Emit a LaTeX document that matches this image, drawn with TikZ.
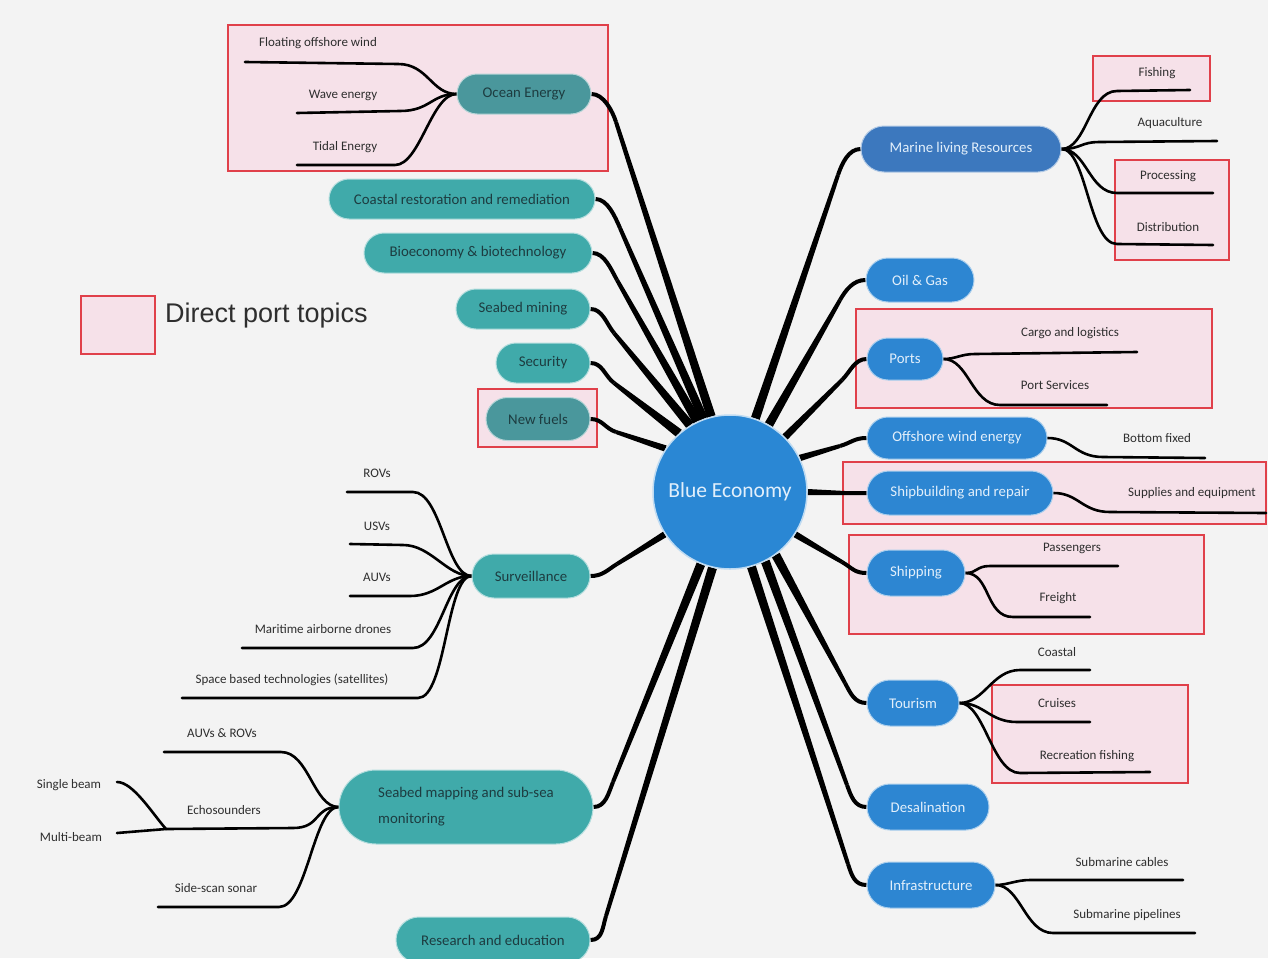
\documentclass[tikz,border=0pt]{standalone}
\usepackage{fontspec}
\setmainfont{Carlito}
\newfontfamily\legendfont{Liberation Sans}
\usetikzlibrary{shapes.misc,calc}
\definecolor{bgc}{HTML}{F3F3F3}
\definecolor{pinkfill}{HTML}{F6E1E9}
\definecolor{pinkedge}{HTML}{E0404A}
\definecolor{tealc}{HTML}{40AAAA}
\definecolor{tealdark}{HTML}{4A979C}
\definecolor{tealtext}{HTML}{1D3C40}
\definecolor{bluec}{HTML}{2D86D2}
\definecolor{bluedark}{HTML}{3C78BE}
\definecolor{bluetext}{HTML}{E2EFFB}
\definecolor{corec}{HTML}{2A87D4}
\definecolor{leaftext}{HTML}{2E2E2E}
\newcommand\fntTopic{\fontsize{14.8}{17}\selectfont}
\newcommand\fntTopicTwo{\fontsize{14.8}{26}\selectfont}
\newcommand\fntLeaf{\fontsize{13}{15}\selectfont}
\newcommand\fntCore{\fontsize{21.5}{24}\selectfont}
\pgfdeclarelayer{bg}
\pgfdeclarelayer{lines}
\pgfsetlayers{bg,lines,main}
% trunk: [#1 half width at core] #2 start anchor, #3 start control offset, #4 knee, #5 end anchor on core
\newcommand\trunkline[5][4.5]{%
  \draw[line width=4pt] (#2) .. controls +(#3) and ($(#4)!-12pt!(#5)$) .. (#4);
  \fill ($(#4)!2pt!90:(#5)$) -- ($(#5)!#1pt!-90:(#4)$) -- ($(#5)!#1pt!90:(#4)$) -- ($(#4)!2pt!-90:(#5)$) -- cycle;
}
\begin{document}
\begin{tikzpicture}[x=1pt,y=-1pt,
  topicL/.style={rounded rectangle, fill=tealc, text=tealtext, font=\fntTopic, minimum height=40pt, inner sep=0pt, draw=tealc!40!white, line width=1pt},
  topicLd/.style={topicL, fill=tealdark, draw=tealdark!40!white},
  topicR/.style={rounded rectangle, fill=bluec, text=bluetext, font=\fntTopic, minimum height=44pt, inner sep=0pt, draw=bluec!40!white, line width=1pt},
  topicRd/.style={topicR, fill=bluedark, draw=bluedark!40!white},
  leaf/.style={text=leaftext, font=\fntLeaf, inner sep=0pt},
  leafline/.style={line width=2.6pt, line cap=round},
  portbox/.style={fill=pinkfill, draw=pinkedge, line width=1.6pt},
]
\useasboundingbox (0,0) rectangle (1268,958);
\begin{pgfonlayer}{bg}
  \fill[bgc] (0,0) rectangle (1268,958);
  \draw[portbox] (228,25) rectangle (608,171);
  \draw[portbox] (478,389) rectangle (597,447);
  \draw[portbox] (1093,56) rectangle (1210,101);
  \draw[portbox] (1115,160) rectangle (1229,260);
  \draw[portbox] (856,309) rectangle (1212,408);
  \draw[portbox] (843,462) rectangle (1266,524);
  \draw[portbox] (849,535) rectangle (1204,634);
  \draw[portbox] (992,685) rectangle (1188,783);
\end{pgfonlayer}

% legend
\node[portbox, minimum width=74pt, minimum height=58pt, inner sep=0pt] (legbox) at (118,325) {};
\node[anchor=west, font=\legendfont\fontsize{27}{30}\selectfont, text=leaftext, inner sep=0pt] (legtext) at (165,316) {Direct port topics};

% core
\node[circle, fill=corec, draw=corec!30!white, line width=1.5pt, minimum size=154pt, text=bluetext, font=\fntCore, inner sep=0pt] (be) at (730,492) {Blue Economy};

% left topics
\node[topicLd, minimum width=134pt] (oe) at (524,94) {Ocean Energy};
\node[topicL, minimum width=266pt] (cr) at (462,199) {Coastal restoration and remediation};
\node[topicL, minimum width=228pt] (bio) at (478,253) {Bioeconomy \& biotechnology};
\node[topicL, minimum width=134pt] (sm) at (523,309) {Seabed mining};
\node[topicL, minimum width=94pt] (sec) at (543,363) {Security};
\node[topicLd, minimum width=104pt, minimum height=43pt] (nf) at (538,419) {New fuels};
\node[topicL, minimum width=118pt, minimum height=44pt] (sv) at (531,576) {Surveillance};
\node[topicL, font=\fntTopicTwo, minimum width=254pt, minimum height=74pt, align=left] (smp) at (466,807) {Seabed mapping and sub-sea\\monitoring};
\node[topicL, minimum width=194pt, minimum height=46pt] (re) at (493,940) {Research and education};

% right topics
\node[topicRd, minimum width=200pt, minimum height=46pt] (mlr) at (961,149) {Marine living Resources};
\node[topicR, minimum width=108pt] (oil) at (920,280) {Oil \& Gas};
\node[topicR, minimum width=76pt, minimum height=42pt] (ports) at (905,359) {Ports};
\node[topicR, minimum width=180pt, minimum height=42pt] (owe) at (957,438) {Offshore wind energy};
\node[topicR, minimum width=186pt] (sbr) at (960,493) {Shipbuilding and repair};
\node[topicR, minimum width=98pt, minimum height=46pt] (shp) at (916,573) {Shipping};
\node[topicR, minimum width=92pt, minimum height=46pt] (tour) at (913,703) {Tourism};
\node[topicR, minimum width=122pt, minimum height=46pt] (desal) at (928,807) {Desalination};
\node[topicR, minimum width=128pt, minimum height=46pt] (infra) at (931,885) {Infrastructure};

% leaf labels
\node[leaf] (fow) at (318,43) {Floating offshore wind};
\node[leaf] (wav) at (343,95) {Wave energy};
\node[leaf] (tid) at (345,147) {Tidal Energy};
\node[leaf] (rov) at (377,473) {ROVs};
\node[leaf] (usv) at (377,526) {USVs};
\node[leaf] (auv) at (377,577) {AUVs};
\node[leaf] (mad) at (323,629) {Maritime airborne drones};
\node[leaf] (sbt) at (292,680) {Space based technologies (satellites)};
\node[leaf] (auvr) at (222,733) {AUVs \& ROVs};
\node[leaf] (echo) at (224,810) {Echosounders};
\node[leaf] (sbm) at (69,785) {Single beam};
\node[leaf] (mbm) at (71,837) {Multi-beam};
\node[leaf] (ssc) at (216,888) {Side-scan sonar};
\node[leaf] (fish) at (1157,73) {Fishing};
\node[leaf] (aqua) at (1170,123) {Aquaculture};
\node[leaf] (proc) at (1168,176) {Processing};
\node[leaf] (dist) at (1168,227) {Distribution};
\node[leaf] (cargo) at (1070,333) {Cargo and logistics};
\node[leaf] (psvc) at (1055,385) {Port Services};
\node[leaf] (bfix) at (1157,438) {Bottom fixed};
\node[leaf] (supp) at (1192,493) {Supplies and equipment};
\node[leaf] (pass) at (1072,548) {Passengers};
\node[leaf] (frei) at (1058,598) {Freight};
\node[leaf] (coas) at (1057,652) {Coastal};
\node[leaf] (crui) at (1057,703) {Cruises};
\node[leaf] (recf) at (1087,756) {Recreation fishing};
\node[leaf] (cabl) at (1122,862) {Submarine cables};
\node[leaf] (pipe) at (1127,915) {Submarine pipelines};

% leaf line coordinates (knee k*, free end e*)
\coordinate (kfow) at (398,64);  \coordinate (efow) at (245,62);
\coordinate (kwav) at (400,111); \coordinate (ewav) at (297,113);
\coordinate (ktid) at (395,165); \coordinate (etid) at (297,165);
\coordinate (krov) at (413,492); \coordinate (erov) at (347,492);
\coordinate (kusv) at (403,545); \coordinate (eusv) at (350,544);
\coordinate (kauv) at (410,596); \coordinate (eauv) at (350,596);
\coordinate (kmad) at (413,648); \coordinate (emad) at (242,648);
\coordinate (ksbt) at (418,698); \coordinate (esbt) at (182,698);
\coordinate (kauvr) at (281,752); \coordinate (eauvr) at (164,752);
\coordinate (kecho) at (293,828); \coordinate (echohub) at (166,829);
\coordinate (esbm) at (117,782); \coordinate (embm) at (117,833);
\coordinate (kssc) at (279,907); \coordinate (essc) at (158,907);
\coordinate (kfish) at (1117,91); \coordinate (efish) at (1190,90);
\coordinate (kaqua) at (1100,142); \coordinate (eaqua) at (1217,141);
\coordinate (kproc) at (1117,193); \coordinate (eproc) at (1213,193);
\coordinate (kdist) at (1117,244); \coordinate (edist) at (1213,245);
\coordinate (kcargo) at (975,354); \coordinate (ecargo) at (1137,352);
\coordinate (kpsvc) at (1000,405); \coordinate (epsvc) at (1107,405);
\coordinate (kbfix) at (1103,457); \coordinate (ebfix) at (1205,458);
\coordinate (ksupp) at (1110,512); \coordinate (esupp) at (1266,513);
\coordinate (kpass) at (990,566); \coordinate (epass) at (1118,566);
\coordinate (kfrei) at (1013,617); \coordinate (efrei) at (1090,617);
\coordinate (kcoas) at (1020,670); \coordinate (ecoas) at (1090,670);
\coordinate (kcrui) at (1017,722); \coordinate (ecrui) at (1090,722);
\coordinate (krecf) at (1020,773); \coordinate (erecf) at (1150,772);
\coordinate (kcabl) at (1030,880); \coordinate (ecabl) at (1183,880);
\coordinate (kpipe) at (1053,933); \coordinate (epipe) at (1195,933);

% trunk knees
\coordinate (toe) at (616,122);
\coordinate (tcr) at (620,228);
\coordinate (tbio) at (617,280);
\coordinate (tsm) at (614,333);
\coordinate (tsec) at (614,383);
\coordinate (tnf) at (616,432);
\coordinate (tsv) at (617,564);
\coordinate (tsmp) at (613,782);
\coordinate (tre) at (606,916);
\coordinate (tmlr) at (838,175);
\coordinate (toil) at (840,300);
\coordinate (tports) at (842,380);
\coordinate (towe) at (840,446);
\coordinate (tsbr) at (845,493);
\coordinate (tshp) at (842,562);
\coordinate (ttour) at (845,683);
\coordinate (tdesal) at (847,785);
\coordinate (tinfra) at (848,864);

\begin{pgfonlayer}{lines}
  % trunks to the core
  \trunkline{oe.east}{12,0}{toe}{be.104}
  \trunkline{cr.east}{12,0}{tcr}{be.110}
  \trunkline{bio.east}{12,0}{tbio}{be.115}
  \trunkline{sm.east}{12,0}{tsm}{be.121}
  \trunkline{sec.east}{12,0}{tsec}{be.131}
  \trunkline[3.2]{nf.east}{12,0}{tnf}{be.146}
  \trunkline[3.2]{sv.east}{12,0}{tsv}{be.213}
  \trunkline{smp.east}{12,0}{tsmp}{be.248}
  \trunkline{re.east}{12,0}{tre}{be.257}
  \trunkline{mlr.west}{-12,0}{tmlr}{be.71}
  \trunkline{oil.west}{-12,0}{toil}{be.60}
  \trunkline[3.6]{ports.west}{-12,0}{tports}{be.45}
  \trunkline[3.2]{owe.west}{-12,0}{towe}{be.26}
  \trunkline[3]{sbr.west}{-8,0}{tsbr}{be.0}
  \trunkline[3.2]{shp.west}{-12,0}{tshp}{be.327}
  \trunkline{tour.west}{-12,0}{ttour}{be.306}
  \trunkline{desal.west}{-12,0}{tdesal}{be.297}
  \trunkline{infra.west}{-12,0}{tinfra}{be.286}

  % left leaves
  \draw[leafline] (oe.west) .. controls +(-25,0) and +(30,0) .. (kfow) -- (efow);
  \draw[leafline] (oe.west) .. controls +(-25,0) and +(30,0) .. (kwav) -- (ewav);
  \draw[leafline] (oe.west) .. controls +(-25,0) and +(25,0) .. (ktid) -- (etid);
  \draw[leafline] (sv.west) .. controls +(-25,0) and +(28,0) .. (krov) -- (erov);
  \draw[leafline] (sv.west) .. controls +(-25,0) and +(28,0) .. (kusv) -- (eusv);
  \draw[leafline] (sv.west) .. controls +(-25,0) and +(28,0) .. (kauv) -- (eauv);
  \draw[leafline] (sv.west) .. controls +(-25,0) and +(28,0) .. (kmad) -- (emad);
  \draw[leafline] (sv.west) .. controls +(-25,0) and +(28,0) .. (ksbt) -- (esbt);
  \draw[leafline] (smp.west) .. controls +(-25,0) and +(28,0) .. (kauvr) -- (eauvr);
  \draw[leafline] (smp.west) .. controls +(-25,0) and +(28,0) .. (kecho) -- (echohub);
  \draw[leafline] (echohub) -- (embm);
  \draw[leafline] (esbm) .. controls +(16,0) and +(-14,-16) .. (echohub);
  \draw[leafline] (smp.west) .. controls +(-25,0) and +(28,0) .. (kssc) -- (essc);

  % right leaves
  \draw[leafline] (mlr.east) .. controls +(25,0) and +(-28,0) .. (kfish) -- (efish);
  \draw[leafline] (mlr.east) .. controls +(20,0) and +(-20,0) .. (kaqua) -- (eaqua);
  \draw[leafline] (mlr.east) .. controls +(25,0) and +(-28,0) .. (kproc) -- (eproc);
  \draw[leafline] (mlr.east) .. controls +(25,0) and +(-28,0) .. (kdist) -- (edist);
  \draw[leafline] (ports.east) .. controls +(12,0) and +(-14,0) .. (kcargo) -- (ecargo);
  \draw[leafline] (ports.east) .. controls +(25,0) and +(-28,0) .. (kpsvc) -- (epsvc);
  \draw[leafline] (owe.east) .. controls +(25,0) and +(-28,0) .. (kbfix) -- (ebfix);
  \draw[leafline] (sbr.east) .. controls +(25,0) and +(-28,0) .. (ksupp) -- (esupp);
  \draw[leafline] (shp.east) .. controls +(12,0) and +(-14,0) .. (kpass) -- (epass);
  \draw[leafline] (shp.east) .. controls +(25,0) and +(-28,0) .. (kfrei) -- (efrei);
  \draw[leafline] (tour.east) .. controls +(25,0) and +(-28,0) .. (kcoas) -- (ecoas);
  \draw[leafline] (tour.east) .. controls +(25,0) and +(-28,0) .. (kcrui) -- (ecrui);
  \draw[leafline] (tour.east) .. controls +(25,0) and +(-28,0) .. (krecf) -- (erecf);
  \draw[leafline] (infra.east) .. controls +(12,0) and +(-14,0) .. (kcabl) -- (ecabl);
  \draw[leafline] (infra.east) .. controls +(25,0) and +(-28,0) .. (kpipe) -- (epipe);
\end{pgfonlayer}
\end{tikzpicture}
\end{document}
